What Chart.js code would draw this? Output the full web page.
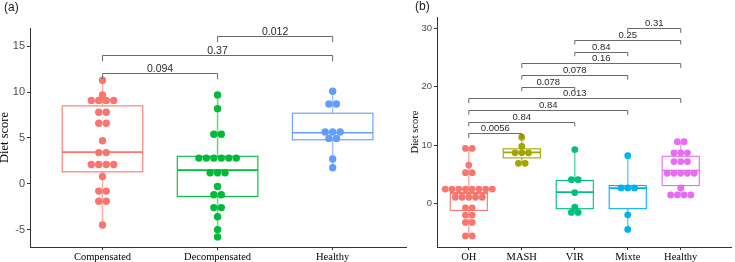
<!DOCTYPE html>
<html>
<head>
<meta charset="utf-8">
<script src="https://cdn.jsdelivr.net/npm/chart.js@4.4.1/dist/chart.umd.min.js"></script>
<style>
    html, body { margin: 0; padding: 0; background: #fff; }
    #wrap { position: relative; width: 735px; height: 262px; overflow: hidden; }
    canvas { position: absolute; top: 0; }
    .tag { position: absolute; font-family: 'Liberation Sans', Arial, sans-serif; font-size: 12px; color: #1a1a1a; line-height: 14px; }
</style>
</head>
<body>
<div id="wrap">
    <canvas id="chartA" width="410" height="262" style="left:0"></canvas>
    <canvas id="chartB" width="335" height="262" style="left:400px"></canvas>
    <div class="tag" style="left:4px; top:0px">(a)</div>
    <div class="tag" style="left:415px; top:-1px">(b)</div>
</div>
<script>
const SANS = "'Liberation Sans', Arial, sans-serif";
const SERIF = "'Liberation Serif', 'Times New Roman', serif";

// ---------------- panel (a) ----------------
const groupsA = ['Compensated', 'Decompensated', 'Healthy'];
const colorsA = ['#F8766D', '#00BA38', '#619CFF'];
const compensated = [11.3, 9.7, 9.1, 9.1, 9.1, 9.1, 7.8, 7.8, 6.6, 6.6, 4.7, 3.4, 3.4,
    2.1, 2.1, 2.1, 2.1, 0.8, -0.8, -0.8, -1.9, -1.9, -4.5];
const decompensated = [9.7, 8.2, 5.4, 5.4, 2.8, 2.8, 2.8, 2.8, 2.8, 2.8, 1.2, 1.2, 1.2,
    -0.3, -1.2, -1.2, -2.6, -2.6, -3.6, -5.0, -5.8];
const healthyA = [10.1, 8.7, 8.7, 5.65, 5.65, 5.65, 4.95, 4.95, 2.7, 1.75];
const q1A = [1.3, -1.38, 4.8];
const medianA = [3.46, 1.5, 5.57];
const q3A = [8.5, 3.0, 7.7];
const lowA = [-4.5, -5.8, 1.75];
const highA = [11.3, 9.7, 10.1];
const yTicksA = [-5, 0, 5, 10, 15];
const pairsA = [[1, 2], [1, 3], [2, 3]];
const pairLevelsA = [12.07, 14.0, 16.1];
const pLabelsA = ['0.094', '0.37', '0.012'];

// ---------------- panel (b) ----------------
const groupsB = ['OH', 'MASH', 'VIR', 'Mixte', 'Healthy'];
const colorsB = ['#F8766D', '#A3A500', '#00BF7D', '#00B0F6', '#E76BF3'];
const oh = [9.45, 9.45, 6.6, 5.3, 5.3, 2.5, 2.5, 2.5, 2.5, 2.5, 2.5, 2.5, 2.5,
    1.1, 1.1, 1.1, 1.1, 1.1, -0.7, -0.7, -1.95, -1.95, -3.2, -3.2, -5.5, -5.5];
const mash = [11.35, 9.8, 8.7, 8.7, 8.7, 6.9, 6.9];
const vir = [9.25, 4.1, 4.1, 1.9, -0.6, -1.5, -1.5];
const mixte = [8.2, 2.7, 2.7, 2.7, -1.9, -4.4];
const healthyB = [10.6, 10.6, 8.7, 8.7, 8.7, 7.2, 7.2, 7.2, 5.2, 5.2, 5.2, 5.2, 5.2,
    2.7, 1.5, 1.5, 1.5, 1.5];
const q1B = [-1.15, 7.83, -0.85, -0.85, 3.1];
const medianB = [1.75, 8.78, 1.98, 2.66, 5.67];
const q3B = [1.9, 9.37, 3.97, 3.1, 8.1];
const lowB = [-5.5, 6.9, -1.5, -4.4, 1.5];
const highB = [9.45, 11.35, 9.25, 8.2, 10.6];
const yTicksB = [0, 10, 20, 30];
const pairsB = [[1, 2], [1, 3], [1, 4], [1, 5], [2, 3], [2, 4], [2, 5], [3, 4], [3, 5], [4, 5]];
const pairLevelsB = [12, 14, 16, 18, 20, 22, 24, 26, 28, 30];
const pLabelsB = ['0.0056', '0.84', '0.84', '0.013', '0.078', '0.078', '0.16', '0.84', '0.25', '0.31'];

// dotplot: equal values are spread sideways, centred on the group
function dotRows(values, center, step) {
    const counts = new Map();
    values.forEach(v => counts.set(v, (counts.get(v) || 0) + 1));
    const out = [];
    counts.forEach((n, v) => {
        for (let i = 0; i < n; i++) {
            out.push({ x: center + (i - (n - 1) / 2) * step, y: v });
        }
    });
    return out;
}

// boxes + whiskers under the dots, p-value brackets on top
function makeBoxPlugin(p) {
    return {
        id: 'boxes',
        beforeDatasetsDraw(chart) {
            const { ctx, scales: { x, y } } = chart;
            ctx.save();
            p.q1.forEach((q1, i) => {
                const cx = x.getPixelForValue(i + 1);
                const half = x.getPixelForValue(i + 1 + p.boxWidth / 2) - cx;
                const col = p.colors[i];
                // whiskers
                ctx.strokeStyle = col + '99';
                ctx.lineWidth = 1.5;
                ctx.beginPath();
                ctx.moveTo(cx, y.getPixelForValue(p.high[i]));
                ctx.lineTo(cx, y.getPixelForValue(p.q3[i]));
                ctx.moveTo(cx, y.getPixelForValue(q1));
                ctx.lineTo(cx, y.getPixelForValue(p.low[i]));
                ctx.stroke();
                // box
                const top = y.getPixelForValue(p.q3[i]);
                const bot = y.getPixelForValue(q1);
                ctx.fillStyle = '#fff';
                ctx.fillRect(cx - half, top, half * 2, bot - top);
                ctx.strokeStyle = col;
                ctx.lineWidth = 1.1;
                ctx.strokeRect(cx - half, top, half * 2, bot - top);
                // median
                const my = y.getPixelForValue(p.median[i]);
                ctx.lineWidth = 1.7;
                ctx.beginPath();
                ctx.moveTo(cx - half, my);
                ctx.lineTo(cx + half, my);
                ctx.stroke();
            });
            ctx.restore();
        },
        afterDatasetsDraw(chart) {
            const { ctx, scales: { x, y } } = chart;
            ctx.save();
            ctx.strokeStyle = '#6b6b6b';
            ctx.lineWidth = 1;
            ctx.fillStyle = '#2b2b2b';
            ctx.font = p.pFont + 'px ' + SANS;
            ctx.textAlign = 'center';
            ctx.textBaseline = 'alphabetic';
            p.pairs.forEach(([a, b], i) => {
                const x1 = x.getPixelForValue(a);
                const x2 = x.getPixelForValue(b);
                const ly = Math.round(y.getPixelForValue(p.levels[i])) + 0.5;
                const ty = y.getPixelForValue(p.levels[i] - p.tip);
                ctx.beginPath();
                ctx.moveTo(x1, ty);
                ctx.lineTo(x1, ly);
                ctx.lineTo(x2, ly);
                ctx.lineTo(x2, ty);
                ctx.stroke();
                ctx.fillText(p.labels[i], (x1 + x2) / 2, ly - p.labelGap);
            });
            ctx.restore();
        }
    };
}

function makePanel(canvasId, p) {
    const datasets = p.points.map((vals, i) => ({
        data: dotRows(vals, i + 1, p.dotStep),
        backgroundColor: p.colors[i],
        borderWidth: 0,
        pointRadius: p.dotRadius,
        pointHoverRadius: p.dotRadius
    }));

    new Chart(document.getElementById(canvasId), {
        type: 'scatter',
        data: { datasets },
        options: {
            responsive: false,
            animation: false,
            events: [],
            layout: { padding: p.padding },
            plugins: { legend: { display: false }, tooltip: { enabled: false } },
            scales: {
                x: {
                    type: 'linear',
                    min: p.xMin,
                    max: p.xMax,
                    afterBuildTicks: s => { s.ticks = p.groups.map((g, i) => ({ value: i + 1 })); },
                    afterFit: s => { s.height = 15; },
                    ticks: {
                        callback: v => p.groups[v - 1],
                        color: '#000',
                        font: { family: SERIF, size: 10.5 },
                        padding: 1,
                        autoSkip: false,
                        maxRotation: 0
                    },
                    grid: { drawOnChartArea: false, tickLength: 3, color: '#333' },
                    border: { color: '#333', width: 1 }
                },
                y: {
                    min: p.yMin,
                    max: p.yMax,
                    afterBuildTicks: s => { s.ticks = p.yTicks.map(v => ({ value: v })); },
                    afterFit: s => { s.width = p.yWidth; },
                    ticks: {
                        callback: v => String(v),
                        color: '#4d4d4d',
                        font: { family: SANS, size: p.yTickFont },
                        padding: 2
                    },
                    grid: { drawOnChartArea: false, tickLength: 3, color: '#333' },
                    border: { color: '#333', width: 1 },
                    title: {
                        display: true,
                        text: 'Diet score',
                        color: '#000',
                        font: { family: SERIF, size: p.titleFont, lineHeight: p.titleLine },
                        padding: { top: p.titlePad, bottom: 0 }
                    }
                }
            }
        },
        plugins: [makeBoxPlugin(p)]
    });
}

makePanel('chartA', {
    groups: groupsA, colors: colorsA,
    points: [compensated, decompensated, healthyA],
    q1: q1A, median: medianA, q3: q3A, low: lowA, high: highA,
    pairs: pairsA, levels: pairLevelsA, labels: pLabelsA,
    yTicks: yTicksA, yMin: -6.9, yMax: 17, xMin: 0.37, xMax: 3.64,
    padding: { top: 28, right: 2, left: 0, bottom: 0 },
    yWidth: 30, yTickFont: 11, titleFont: 12.5, titleLine: 0.75, titlePad: 0,
    dotStep: 0.065, dotRadius: 3.7, boxWidth: 0.7,
    tip: 0.65, pFont: 10.5, labelGap: 1.5
});

makePanel('chartB', {
    groups: groupsB, colors: colorsB,
    points: [oh, mash, vir, mixte, healthyB],
    q1: q1B, median: medianB, q3: q3B, low: lowB, high: highB,
    pairs: pairsB, levels: pairLevelsB, labels: pLabelsB,
    yTicks: yTicksB, yMin: -7.4, yMax: 31.9, xMin: 0.4, xMax: 5.96,
    padding: { top: 17, right: 0, left: 0, bottom: 0 },
    yWidth: 37, yTickFont: 9.5, titleFont: 10.5, titleLine: 1.2, titlePad: 8.7,
    dotStep: 0.127, dotRadius: 3.4, boxWidth: 0.7,
    tip: 0.8, pFont: 9.5, labelGap: 2.5
});
</script>
</body>
</html>
